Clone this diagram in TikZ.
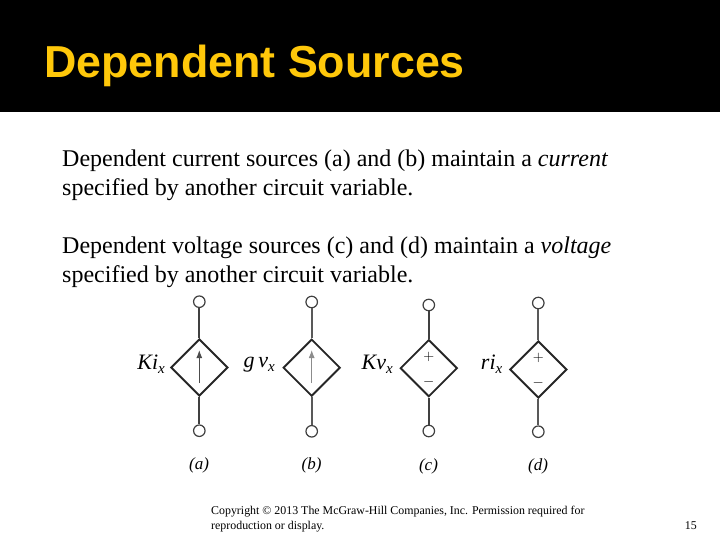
\documentclass[tikz,border=0pt]{standalone}
\usepackage{fontspec}
\setmainfont{Liberation Serif}
\newfontfamily\titlefont{Liberation Sans}
\usetikzlibrary{arrows.meta,shapes.geometric}
\definecolor{titlegold}{RGB}{255,200,10}
\newcommand{\subx}{\raisebox{-4pt}{\fontsize{15}{15}\selectfont\textit{x}}}
\tikzset{
  x=1pt,y=-1pt,
  body/.style={anchor=base west,inner sep=0pt,font=\fontsize{24}{28}\selectfont},
  term/.style={circle,draw=black!75,line width=1.2pt,fill=white,minimum size=11.5pt,inner sep=0pt},
  lead/.style={draw=black!75,line width=2.2pt},
  leadthin/.style={draw=black!65,line width=1.8pt},
  srcbox/.style={diamond,draw=black!85,line width=1.9pt,fill=white,inner sep=0pt,minimum size=57pt},
  lab/.style={anchor=east,inner sep=0pt,font=\fontsize{22}{24}\selectfont\itshape},
  sublab/.style={inner sep=0pt,font=\fontsize{17}{20}\selectfont\itshape},
  signmark/.style={inner sep=0pt,font=\fontsize{14}{15}\selectfont\bfseries},
  flow/.style={draw=black!70,line width=1.1pt,-{Latex[length=8pt,width=6pt]}},
  small/.style={anchor=base west,inner sep=0pt,font=\fontsize{11.9}{14}\selectfont}
}
\begin{document}
\begin{tikzpicture}
\useasboundingbox (0,0) rectangle (720,540);
\fill[white] (0,0) rectangle (720,540);
\fill[black] (0,0) rectangle (720,112);
\node[anchor=base west,inner sep=0pt,text=titlegold,font=\titlefont\bfseries\fontsize{44.8}{50}\selectfont] (title) at (44,78) {Dependent Sources};
\node[body] (l1) at (62,167) {Dependent current sources (a) and (b) maintain a \textit{current}};
\node[body] (l2) at (62,196) {specified by another circuit variable.};
\node[body] (l3) at (62,253) {Dependent voltage sources (c) and (d) maintain a \textit{voltage}};
\node[body] (l4) at (62,282) {specified by another circuit variable.};
% (a)
\node[srcbox] (da) at (199.3,367.5) {};
\node[term] (ta) at (199.3,301.7) {};
\node[term] (ba) at (199.3,430.7) {};
\draw[lead] (ta) -- (da.north);
\draw[lead] (da.south) -- (ba);
\coordinate (a1) at (199.3,383);
\coordinate (a2) at (199.3,350);
\draw[flow] (a1) -- (a2);
\node[lab] (la) at (165,364) {Ki\subx};
\node[sublab] (ca) at (199,465) {(a)};
% (b)
\node[srcbox] (db) at (311.7,367.7) {};
\node[term] (tb) at (311.7,302) {};
\node[term] (bb) at (311.7,431.3) {};
\draw[leadthin] (tb) -- (db.north);
\draw[leadthin] (db.south) -- (bb);
\coordinate (b1) at (311.7,383);
\coordinate (b2) at (311.7,350);
\draw[flow,draw=black!45,line width=0.9pt] (b1) -- (b2);
\node[lab] (lb) at (275,365) {g\,v\subx};
\node[sublab] (cb) at (311.5,465) {(b)};
% (c)
\node[srcbox] (dc) at (428.8,368.2) {};
\node[term] (tc) at (428.8,305) {};
\node[term] (bc) at (428.8,431) {};
\draw[lead] (tc) -- (dc.north);
\draw[lead] (dc.south) -- (bc);
\node[signmark] (pc) at (428.8,356.5) {$+$};
\node[signmark] (mc) at (428.8,382) {$-$};
\node[lab] (lc) at (393,364) {Kv\subx};
\node[sublab] (cc) at (428.5,466) {(c)};
% (d)
\node[srcbox] (dd) at (538.3,369.5) {};
\node[term] (td) at (538.3,303) {};
\node[term] (bd) at (538.3,431.7) {};
\draw[leadthin] (td) -- (dd.north);
\draw[leadthin] (dd.south) -- (bd);
\node[signmark] (pd) at (538.3,357.5) {$+$};
\node[signmark] (md) at (538.3,383) {$-$};
\node[lab] (ld) at (502.5,364) {ri\subx};
\node[sublab] (cd) at (538,466) {(d)};
% footer
\node[small] (f1) at (211,514) {Copyright © 2013 The McGraw-Hill Companies, Inc. Permission required for};
\node[small] (f2) at (211,529) {reproduction or display.};
\node[small,anchor=base east] (pg) at (697,529) {15};
\end{tikzpicture}
\end{document}
